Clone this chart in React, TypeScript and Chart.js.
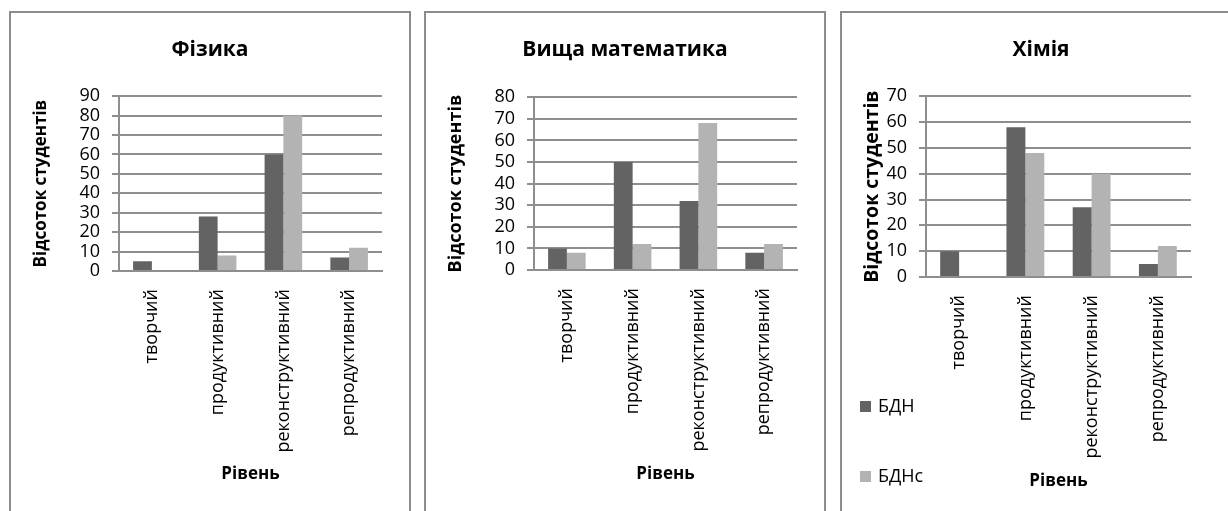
import React, { useEffect, useRef } from "react";
import { Chart, registerables } from "chart.js";

Chart.register(...registerables);

// ---- data ----
const categories = ["творчий", "продуктивний", "реконструктивний", "репродуктивний"];
const seriesNames = ["БДН", "БДНс"];
const physicsBDN = [5, 28, 60, 7];
const physicsBDNs = [0, 8, 80, 12];
const mathBDN = [10, 50, 32, 8];
const mathBDNs = [8, 12, 68, 12];
const chemBDN = [10, 58, 27, 5];
const chemBDNs = [0, 48, 40, 12];
const panelTitles = ["Фізика", "Вища математика", "Хімія"];
const yMaxValues = [90, 80, 70];
const yStep = 10;
const yAxisTitle = "Відсоток студентів";
const xAxisTitle = "Рівень";

// ---- style ----
const FONT = "'Open Sans', 'DejaVu Sans', sans-serif";
const DARK = "#636363";
const LIGHT = "#b3b3b3";
const GRID = "#8e8e8e";
const W = 398;
const H = 500;

type PanelCfg = {
  left: number;
  title: string;
  max: number;
  a: number[];
  b: number[];
  plotLeft: number;
  plotRight: number;
  plotTop: number;
  plotBottom: number;
  xTitlePad: number;
  yTitleSize: number;
  legend: boolean;
};

const panels: PanelCfg[] = [
  { left: 9, title: panelTitles[0], max: yMaxValues[0], a: physicsBDN, b: physicsBDNs, plotLeft: 108, plotRight: 371, plotTop: 83, plotBottom: 258, xTitlePad: 29, yTitleSize: 17, legend: false },
  { left: 424, title: panelTitles[1], max: yMaxValues[1], a: mathBDN, b: mathBDNs, plotLeft: 108, plotRight: 371, plotTop: 84, plotBottom: 257, xTitlePad: 29, yTitleSize: 18, legend: false },
  { left: 840, title: panelTitles[2], max: yMaxValues[2], a: chemBDN, b: chemBDNs, plotLeft: 84, plotRight: 349, plotTop: 83, plotBottom: 264, xTitlePad: 22, yTitleSize: 19.5, legend: true },
];

const sideLegend = {
  id: "sideLegend",
  afterDraw(chart: any) {
    const ctx = chart.ctx;
    const x0 = 18;
    const top = 388;
    const step = 70;
    ctx.save();
    chart.data.datasets.forEach((ds: any, i: number) => {
      const y = top + i * step;
      ctx.fillStyle = ds.backgroundColor;
      ctx.fillRect(x0, y, 11, 11);
      ctx.fillStyle = "#000";
      ctx.font = `18px ${FONT}`;
      ctx.textBaseline = "middle";
      ctx.textAlign = "left";
      ctx.fillText(ds.label, x0 + 18, y + 6);
    });
    ctx.restore();
  },
};

function Panel({ cfg }: { cfg: PanelCfg }) {
  const ref = useRef<HTMLCanvasElement>(null);
  useEffect(() => {
    if (!ref.current) return;
    const yLine = cfg.yTitleSize * 1.2;
    const chart = new Chart(ref.current, {
      type: "bar",
      data: {
        labels: categories,
        datasets: [
          { label: seriesNames[0], data: cfg.a, backgroundColor: DARK, borderWidth: 0, categoryPercentage: 2 / 3.5, barPercentage: 1 },
          { label: seriesNames[1], data: cfg.b, backgroundColor: LIGHT, borderWidth: 0, categoryPercentage: 2 / 3.5, barPercentage: 1 },
        ],
      },
      plugins: cfg.legend ? [sideLegend] : [],
      options: {
        animation: false,
        responsive: false,
        maintainAspectRatio: false,
        layout: { padding: 0 },
        plugins: {
          legend: { display: false },
          tooltip: { enabled: false },
          title: {
            display: true,
            text: cfg.title,
            color: "#000",
            font: { family: FONT, size: 21, weight: "bold", lineHeight: 1.2 },
            padding: { top: 24, bottom: cfg.plotTop - 24 - 25 },
          },
        },
        scales: {
          x: {
            type: "category",
            offset: true,
            z: 1,
            grid: { display: false },
            border: { display: true, color: GRID, width: 2 },
            ticks: {
              color: "#000",
              font: { family: FONT, size: 18 },
              maxRotation: 90,
              minRotation: 90,
              padding: 10,
              autoSkip: false,
            },
            title: {
              display: true,
              text: xAxisTitle,
              color: "#000",
              font: { family: FONT, size: 17, weight: "bold", lineHeight: 1.2 },
              padding: { top: 0, bottom: cfg.xTitlePad },
            },
            afterFit: (s: any) => {
              s.height = H - cfg.plotBottom;
            },
          },
          y: {
            type: "linear",
            min: 0,
            max: cfg.max,
            ticks: { stepSize: yStep, autoSkip: false, color: "#000", font: { family: FONT, size: 18 }, padding: 12 },
            grid: { color: GRID, lineWidth: 2, tickLength: 7, drawTicks: true },
            border: { display: true, color: GRID, width: 2 },
            title: {
              display: true,
              text: yAxisTitle,
              color: "#000",
              font: { family: FONT, size: cfg.yTitleSize, weight: "bold", lineHeight: 1.2 },
              padding: { top: 30 - yLine / 2, bottom: 0 },
            },
            afterFit: (s: any) => {
              s.width = cfg.plotLeft;
            },
          },
          yR: {
            type: "linear",
            position: "right",
            display: true,
            grid: { display: false },
            border: { display: false },
            ticks: { display: false },
            afterFit: (s: any) => {
              s.width = W - cfg.plotRight;
            },
          },
        },
      } as any,
    });
    return () => chart.destroy();
  }, [cfg]);
  return (
    <div
      style={{
        position: "absolute",
        left: cfg.left,
        top: 11,
        width: W,
        height: H,
        border: "2px solid #8c8c8c",
        background: "#fff",
      }}
    >
      <canvas ref={ref} width={W} height={H} style={{ display: "block", width: W, height: H }} />
    </div>
  );
}

export default function App() {
  return (
    <div
      style={{
        position: "fixed",
        left: 0,
        top: 0,
        width: 1228,
        height: 511,
        overflow: "hidden",
        background: "#fff",
      }}
    >
      {panels.map((p, i) => (
        <Panel key={i} cfg={p} />
      ))}
    </div>
  );
}
